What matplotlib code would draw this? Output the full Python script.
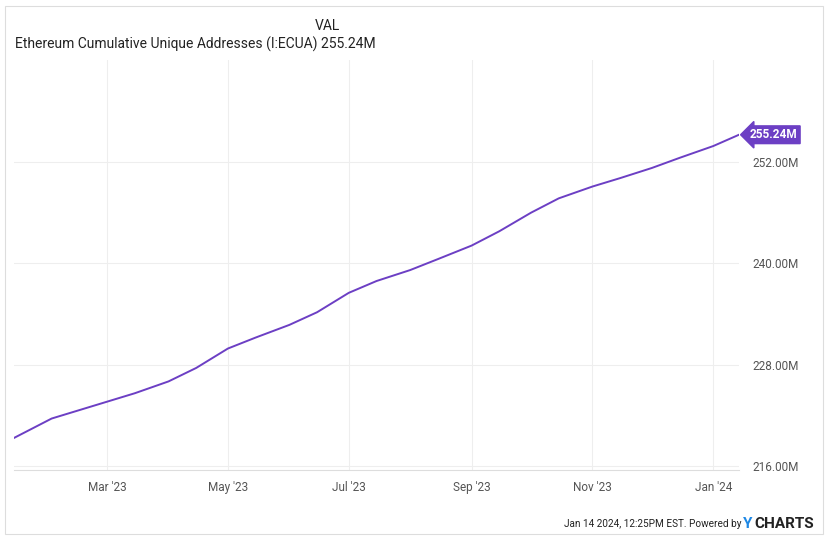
import matplotlib.pyplot as plt
import matplotlib.dates as mdates
import numpy as np
import pandas as pd

dates = pd.to_datetime([
    "2023-01-13", "2023-02-01", "2023-02-15", "2023-03-01", "2023-03-15",
    "2023-04-01", "2023-04-15", "2023-05-01", "2023-05-15", "2023-06-01",
    "2023-06-15", "2023-07-01", "2023-07-15", "2023-08-01", "2023-08-15",
    "2023-09-01", "2023-09-15", "2023-10-01", "2023-10-15", "2023-11-01",
    "2023-11-15", "2023-12-01", "2023-12-15", "2024-01-01", "2024-01-14",
])
values = [
    219.3, 221.6, 222.6, 223.6, 224.6,
    226.0, 227.6, 229.9, 231.2, 232.7,
    234.2, 236.5, 237.9, 239.2, 240.5,
    242.1, 243.8, 246.0, 247.7, 249.1,
    250.1, 251.3, 252.5, 253.9, 255.24,
]
yticks = [216, 228, 240, 252]
xticks = pd.to_datetime(["2023-03-01", "2023-05-01", "2023-07-01",
                         "2023-09-01", "2023-11-01", "2024-01-01"])
xlabels = ["Mar '23", "May '23", "Jul '23", "Sep '23", "Nov '23", "Jan '24"]

purple = "#6c3fc4"
plt.rcParams["font.family"] = "Roboto"
fig = plt.figure(figsize=(8.28, 5.42), dpi=100)
ax = fig.add_axes([14/828, 72/542, 725/828, 410/542])
ax.plot(dates, values, color=purple, lw=1.4)
ax.set_xlim(dates[0], dates[-1])
ax.set_ylim(215.5, 264.1)
ax.set_yticks(yticks)
ax.set_yticklabels([f"{v:.2f}M" for v in yticks])
ax.set_xticks(xticks)
ax.set_xticklabels(xlabels)
ax.yaxis.tick_right()
ax.tick_params(length=0, colors="#555555", labelsize=8.5)
ax.tick_params(axis="y", pad=10)
ax.tick_params(axis="x", pad=8)
ax.grid(True, color="#eeeeee", lw=0.8)
for s in ["top", "right", "left"]:
    ax.spines[s].set_visible(False)
ax.spines["bottom"].set_color("#dddddd")

ax.annotate(f"{values[-1]:.2f}M", xy=(dates[-1], values[-1]), xytext=(8, 0),
            textcoords="offset points", va="center", ha="left", color="white",
            fontsize=8.5, fontweight="bold", annotation_clip=False,
            bbox=dict(boxstyle="larrow,pad=0.2", fc=purple, ec=purple))

fig.text(340/828, 1 - 26/542, "VAL", ha="right", va="center", fontsize=10, color="#222222")
fig.text(15/828, 1 - 44/542, "Ethereum Cumulative Unique Addresses (I:ECUA) 255.24M",
         ha="left", va="center", fontsize=10, color="#222222")
fig.text(742/828, 1 - 524/542, "Jan 14 2024, 12:25PM EST. Powered by", ha="right",
         va="center", fontsize=7.2, color="#222222")
fig.text(743/828, 1 - 524/542, "Y", ha="left", va="center", fontsize=11,
         color="#1e88e5", fontweight="bold")
fig.text(754/828, 1 - 524/542, "CHARTS", ha="left", va="center", fontsize=11,
         color="#222222", fontweight="bold")
fig.patches.append(plt.Rectangle((5/828, 8/542), 818/828, 528/542, transform=fig.transFigure,
                                 fill=False, ec="#dddddd", lw=0.8))
fig.savefig("out.png", dpi=100)
